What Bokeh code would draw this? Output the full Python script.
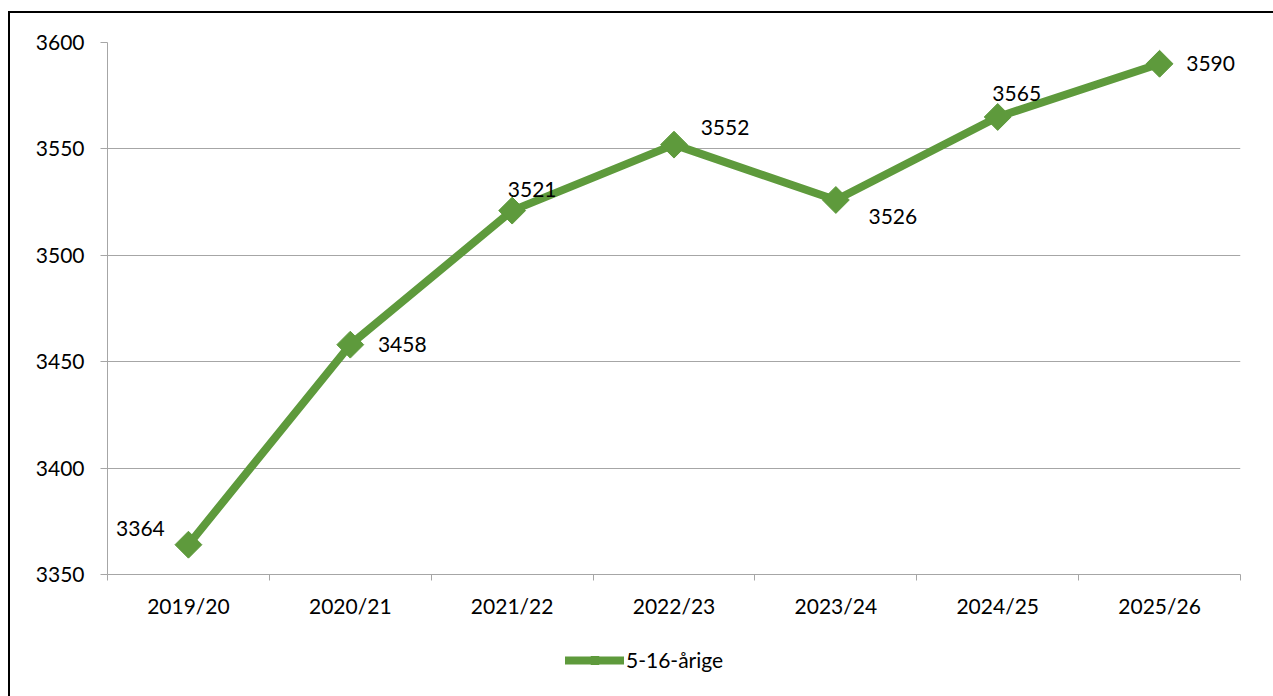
import math
from bokeh.plotting import figure
from bokeh.layouts import column
from bokeh.models import ColumnDataSource, Range1d, FixedTicker, Legend, LegendItem
from bokeh.core.properties import value
from bokeh.embed import file_html
from bokeh.resources import INLINE

# ---- data ----
categories = ["2019/20", "2020/21", "2021/22", "2022/23", "2023/24", "2024/25", "2025/26"]
values = [3364, 3458, 3521, 3552, 3526, 3565, 3590]
y_ticks = [3350, 3400, 3450, 3500, 3550, 3600]
series_name = "5-16-årige"

# ---- label placement (style, pixels) ----
label_dx = [-48, 52, 20, 51, 57, 19, 51]
label_dy = [-16, 0, -21, -17, 17, -23, 0]

GREEN = "#5E9A3C"
GRID = "#A6A6A6"
FONT = "Lato"
FS = "21px"

W = 1263
H1, H2 = 611, 72
x_idx = [i + 0.5 for i in range(len(categories))]

src = ColumnDataSource(dict(x=x_idx, y=values, lbl=[str(v) for v in values],
                            dx=label_dx, dy=label_dy))

p = figure(width=W, height=H1, output_backend="svg", toolbar_location=None,
           x_range=Range1d(0, len(categories)), y_range=Range1d(y_ticks[0], y_ticks[-1]),
           min_border_left=97, min_border_right=33, min_border_top=29, min_border_bottom=50)
p.outline_line_color = None
p.background_fill_color = "white"
p.border_fill_color = "white"

p.xgrid.visible = False
p.ygrid.ticker = FixedTicker(ticks=y_ticks)
p.ygrid.grid_line_color = GRID
p.ygrid.grid_line_width = 1

xa = p.xaxis[0]
xa.ticker = FixedTicker(ticks=x_idx, minor_ticks=list(range(len(categories) + 1)))
xa.major_label_overrides = {x: c for x, c in zip(x_idx, categories)}
xa.major_tick_line_color = None
xa.minor_tick_line_color = GRID
xa.minor_tick_out = 6
xa.minor_tick_in = 0
xa.axis_line_color = GRID
xa.major_label_text_font = FONT
xa.major_label_text_font_size = FS
xa.major_label_text_color = "black"
xa.major_label_standoff = 12

ya = p.yaxis[0]
ya.ticker = FixedTicker(ticks=y_ticks)
ya.major_tick_line_color = GRID
ya.major_tick_out = 7
ya.major_tick_in = 0
ya.minor_tick_line_color = None
ya.axis_line_color = GRID
ya.major_label_text_font = FONT
ya.major_label_text_font_size = FS
ya.major_label_text_color = "black"
ya.major_label_standoff = 16

p.line("x", "y", source=src, line_color=GREEN, line_width=8,
       line_join="round", line_cap="round")
p.scatter("x", "y", source=src, marker="square", size=19, angle=math.pi / 4,
          fill_color=GREEN, line_color=GREEN)

p.text("x", "y", text="lbl", source=src, x_offset="dx", y_offset="dy",
       text_font=value(FONT), text_font_size=FS, text_color="black",
       text_align="center", text_baseline="middle")

# ---- legend strip (same series, its data lies outside this strip's ranges) ----
lg = figure(width=W, height=H2, output_backend="svg", toolbar_location=None,
            x_axis_type=None, y_axis_type=None,
            x_range=Range1d(0, 1), y_range=Range1d(0, 1),
            min_border_left=0, min_border_right=0, min_border_top=0, min_border_bottom=0)
lg.outline_line_color = None
lg.background_fill_color = "white"
lg.border_fill_color = "white"
lr = lg.line("x", "y", source=src, line_color=GREEN, line_width=8, line_cap="round")
ls = lg.scatter("x", "y", source=src, marker="square", size=8, angle=math.pi / 4,
                fill_color=GREEN, line_color=GREEN)
legend = Legend(items=[LegendItem(label=series_name, renderers=[lr, ls])],
                location=(458, 24), padding=0, margin=0, spacing=0,
                glyph_width=59, glyph_height=20, label_standoff=2,
                label_text_font=FONT, label_text_font_size=FS, label_text_color="black",
                border_line_color=None, background_fill_alpha=0)
lg.add_layout(legend, "center")

layout = column(p, lg, spacing=0)
layout.styles = {"margin-left": "8px", "margin-top": "11px",
                 "border-left": "2px solid black", "border-top": "2px solid black"}

open("out.html", "w").write(file_html(layout, INLINE))
